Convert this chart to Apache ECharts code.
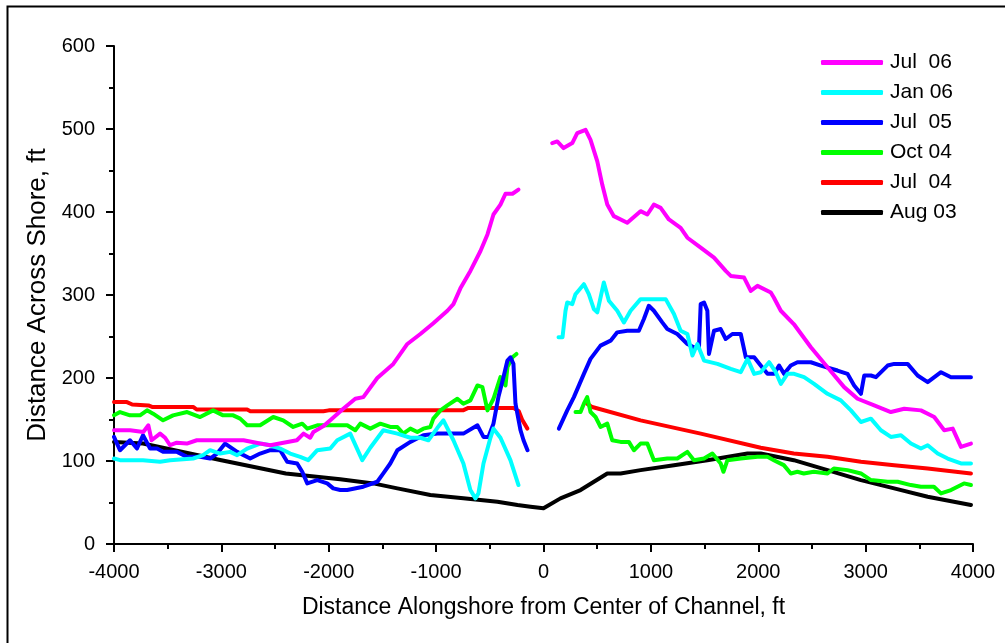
<!DOCTYPE html>
<html>
<head>
<meta charset="utf-8">
<script src="https://cdn.jsdelivr.net/npm/echarts@6/dist/echarts.min.js"></script>
<style>
html,body{margin:0;padding:0;background:#fff;}
#chart{width:1005px;height:643px;}
</style>
</head>
<body>
<div id="chart"></div>
<script>
// Series names (legend order)
const seriesNames = ["Jul  06", "Jan 06", "Jul  05", "Oct 04", "Jul  04", "Aug 03"];
const xTicks = [-4000, -3000, -2000, -1000, 0, 1000, 2000, 3000, 4000];
const yTicks = [0, 100, 200, 300, 400, 500, 600];

// [distance alongshore ft, distance across shore ft]
const jul06Left = [[-4000,137],[-3850,137],[-3727,135],[-3680,143],[-3650,125],[-3571,133],[-3524,128],[-3478,119],[-3415,122],[-3322,121],[-3229,125],[-3105,125],[-2949,125],[-2794,125],[-2639,121],[-2545,119],[-2421,122],[-2297,125],[-2235,133],[-2173,128],[-2143,135],[-2049,142],[-1986,149],[-1865,163],[-1753,175],[-1678,177],[-1548,200],[-1399,217],[-1268,241],[-1147,253],[-1026,266],[-895,281],[-839,289],[-774,308],[-681,329],[-587,353],[-522,373],[-466,397],[-401,409],[-354,422],[-289,422],[-233,427]];
const jul06Right = [[81,483],[128,485],[187,477],[268,483],[314,495],[392,499],[438,487],[501,461],[547,433],[594,409],[655,395],[780,387],[904,401],[967,397],[1028,409],[1091,405],[1168,391],[1277,381],[1340,369],[1464,357],[1588,345],[1697,329],[1744,323],[1868,321],[1930,305],[1993,311],[2117,303],[2145,297],[2210,281],[2331,265],[2490,237],[2645,213],[2800,189],[2925,175],[3080,167],[3235,159],[3360,163],[3515,161],[3639,153],[3732,137],[3811,139],[3888,117],[3981,121]];

const jan06Left = [[-4000,103],[-3944,101],[-3730,101],[-3571,99],[-3478,101],[-3263,103],[-3170,107],[-3105,113],[-3012,109],[-2918,111],[-2853,107],[-2760,115],[-2639,121],[-2545,119],[-2452,115],[-2359,109],[-2266,105],[-2191,101],[-2107,113],[-1986,115],[-1921,125],[-1800,133],[-1688,101],[-1613,116],[-1492,137],[-1361,133],[-1240,128],[-1147,128],[-1072,125],[-988,140],[-932,149],[-839,125],[-746,97],[-681,65],[-634,55],[-606,61],[-559,97],[-494,128],[-466,139],[-401,128],[-308,101],[-233,71]];
const jan06Right = [[140,249],[177,249],[205,281],[221,291],[268,289],[298,301],[376,313],[422,301],[469,283],[501,279],[562,315],[609,293],[687,281],[749,267],[811,281],[904,295],[1138,295],[1215,277],[1277,257],[1340,253],[1387,227],[1433,241],[1495,221],[1620,217],[1744,211],[1837,207],[1900,223],[1962,205],[2023,207],[2101,219],[2163,207],[2210,193],[2272,205],[2334,205],[2427,201],[2520,193],[2645,181],[2769,173],[2863,161],[2956,147],[3049,151],[3142,137],[3235,129],[3329,131],[3422,121],[3515,115],[3578,119],[3671,109],[3764,103],[3888,97],[3981,97]];

const jul05Left = [[-4000,129],[-3944,113],[-3851,125],[-3786,115],[-3730,131],[-3664,115],[-3599,115],[-3543,111],[-3413,111],[-3319,105],[-3198,105],[-3105,103],[-3040,109],[-2965,121],[-2853,111],[-2732,103],[-2639,109],[-2545,113],[-2452,113],[-2387,99],[-2294,97],[-2247,87],[-2200,73],[-2107,77],[-2014,73],[-1958,67],[-1893,65],[-1828,65],[-1678,69],[-1548,75],[-1492,85],[-1427,97],[-1361,113],[-1240,123],[-1119,131],[-988,133],[-746,133],[-615,143],[-559,129],[-513,129],[-466,145],[-420,177],[-373,201],[-336,221],[-308,225],[-280,217],[-261,169],[-214,137],[-186,125],[-149,113]];
const jul05Right = [[143,139],[221,161],[283,177],[376,205],[438,223],[531,239],[625,245],[687,255],[780,257],[888,257],[935,271],[981,287],[1028,281],[1106,267],[1153,259],[1246,253],[1340,241],[1401,237],[1448,237],[1464,289],[1495,291],[1526,281],[1541,229],[1588,257],[1650,259],[1697,247],[1759,253],[1837,253],[1884,225],[1962,225],[2023,215],[2086,205],[2148,205],[2194,215],[2241,205],[2303,215],[2365,219],[2490,219],[2583,215],[2738,209],[2831,205],[2893,191],[2956,181],[2987,203],[3049,203],[3096,201],[3205,215],[3266,217],[3391,217],[3484,203],[3578,195],[3702,207],[3795,201],[3981,201]];

const oct04Left = [[-4000,155],[-3944,159],[-3851,155],[-3758,155],[-3692,161],[-3636,157],[-3543,149],[-3450,155],[-3319,159],[-3198,153],[-3077,161],[-2984,155],[-2890,155],[-2825,151],[-2760,143],[-2639,143],[-2517,153],[-2424,149],[-2331,141],[-2247,145],[-2200,139],[-2107,143],[-1986,143],[-1828,143],[-1753,137],[-1706,145],[-1613,139],[-1520,145],[-1427,141],[-1361,141],[-1306,133],[-1240,139],[-1175,135],[-1119,139],[-1054,141],[-1026,151],[-960,161],[-895,167],[-802,175],[-746,169],[-681,173],[-615,191],[-569,189],[-522,161],[-466,175],[-401,201],[-354,191],[-336,213],[-289,225],[-252,229]];
const oct04Right = [[298,159],[345,159],[376,169],[407,177],[438,159],[485,153],[531,141],[594,145],[640,125],[718,123],[795,123],[842,113],[904,121],[967,121],[1028,101],[1153,103],[1246,103],[1340,111],[1401,101],[1495,103],[1573,109],[1650,97],[1676,87],[1713,101],[1837,103],[1993,105],[2086,105],[2145,101],[2238,95],[2303,85],[2365,87],[2424,85],[2517,87],[2645,85],[2704,91],[2831,89],[2956,85],[3049,77],[3205,75],[3298,75],[3422,71],[3515,69],[3636,69],[3702,61],[3795,65],[3916,73],[3981,71]];

const jul04Left = [[-4000,171],[-3880,171],[-3830,168],[-3680,167],[-3640,165],[-3260,165],[-3230,162],[-2760,162],[-2730,160],[-2050,160],[-2000,161],[-750,161],[-700,164],[-280,164],[-230,160],[-200,150],[-150,139]];
const jul04Right = [[407,169],[454,165],[904,149],[1464,133],[2023,116],[2331,109],[2645,105],[2956,99],[3266,95],[3578,91],[3981,85]];

const aug03 = [[-4000,123],[-3730,121],[-3000,101],[-2400,85],[-1893,78],[-1585,73],[-1361,67],[-1054,59],[-746,55],[-429,51],[-242,47],[-121,45],[0,43],[158,55],[345,65],[594,85],[718,85],[904,89],[1215,95],[1526,101],[1900,109],[2023,109],[2331,101],[2645,89],[2956,77],[3266,67],[3578,57],[3981,47]];

const colors = {"Jul  06":"#ff00ff","Jan 06":"#00ffff","Jul  05":"#0000ff","Oct 04":"#00ff00","Jul  04":"#ff0000","Aug 03":"#000000"};
const FONT = "'Liberation Sans', Arial, sans-serif";

function line(name, data) {
  return {
    name: name, type: 'line', data: data, showSymbol: false, symbol: 'none',
    lineStyle: { width: 4, color: colors[name], cap: 'round', join: 'round' },
    itemStyle: { color: colors[name] },
    animation: false, silent: true
  };
}

const chart = echarts.init(document.getElementById('chart'), null, {renderer: 'canvas'});
chart.setOption({
  backgroundColor: '#fff',
  animation: false,
  textStyle: { fontFamily: FONT, color: '#000' },
  graphic: [{
    type: 'rect', left: 5, top: 4, shape: { x: 0, y: 0, width: 1010, height: 650 },
    style: { fill: 'none', stroke: '#000', lineWidth: 2 }, z: 100, silent: true
  }],
  grid: { left: 114, right: 32, top: 46, bottom: 99, containLabel: false },
  legend: {
    orient: 'vertical', left: 816, top: 47, padding: 5,
    itemWidth: 62, itemHeight: 5, itemGap: 9,
    icon: 'roundRect',
    data: seriesNames,
    textStyle: { fontFamily: FONT, fontSize: 21, color: '#000', lineHeight: 20, padding: [0, 0, 0, 2] },
    selectedMode: false
  },
  xAxis: {
    type: 'value', min: xTicks[0], max: xTicks[xTicks.length - 1], interval: 1000,
    name: 'Distance Alongshore from Center of Channel, ft',
    nameLocation: 'middle', nameGap: 52,
    nameTextStyle: { fontFamily: FONT, fontSize: 23, color: '#000' },
    axisLine: { show: true, onZero: false, lineStyle: { color: '#000', width: 2 } },
    axisTick: { show: true, inside: false, length: 8, lineStyle: { color: '#000', width: 2 } },
    minorTick: { show: true, splitNumber: 2, length: 5, lineStyle: { color: '#000', width: 2 } },
    axisLabel: { fontFamily: FONT, fontSize: 20, color: '#000', margin: 18, formatter: v => String(v) },
    splitLine: { show: false }, minorSplitLine: { show: false }
  },
  yAxis: {
    type: 'value', min: yTicks[0], max: yTicks[yTicks.length - 1], interval: 100,
    name: 'Distance Across Shore, ft',
    nameLocation: 'middle', nameGap: 58, nameRotate: 90,
    nameTextStyle: { fontFamily: FONT, fontSize: 26, color: '#000' },
    axisLine: { show: true, onZero: false, lineStyle: { color: '#000', width: 2 } },
    axisTick: { show: true, inside: false, length: 8, lineStyle: { color: '#000', width: 2 } },
    minorTick: { show: true, splitNumber: 2, length: 5, lineStyle: { color: '#000', width: 2 } },
    axisLabel: { fontFamily: FONT, fontSize: 20, color: '#000', margin: 19, formatter: v => String(v) },
    splitLine: { show: false }, minorSplitLine: { show: false }
  },
  series: [
    line("Aug 03", aug03),
    line("Jul  04", jul04Left), line("Jul  04", jul04Right),
    line("Oct 04", oct04Left), line("Oct 04", oct04Right),
    line("Jul  05", jul05Left), line("Jul  05", jul05Right),
    line("Jan 06", jan06Left), line("Jan 06", jan06Right),
    line("Jul  06", jul06Left), line("Jul  06", jul06Right)
  ]
});
</script>
</body>
</html>
